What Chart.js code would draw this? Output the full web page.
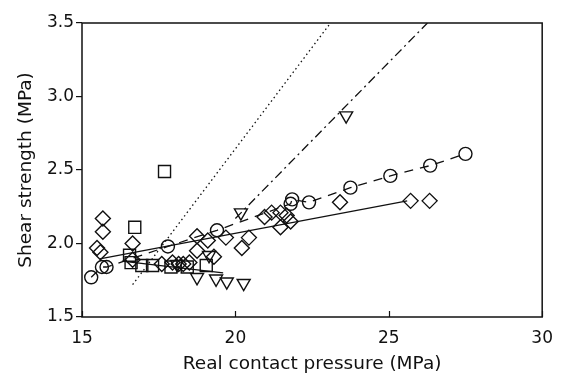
<!DOCTYPE html>
<html>
<head>
<meta charset="utf-8">
<script src="https://cdn.jsdelivr.net/npm/chart.js@4/dist/chart.umd.min.js"></script>
<style>
  html, body { margin: 0; padding: 0; background: #fff; }
  #wrap { width: 564px; height: 379px; }
</style>
</head>
<body>
<div id="wrap"><canvas id="shear"></canvas></div>
<script>
// measured points, one pair of arrays per marker type
const circleX = [15.3, 15.65, 15.8, 17.8, 19.4, 21.8, 21.85, 22.4, 23.75, 25.05, 26.35, 27.5];
const circleY = [1.77, 1.84, 1.84, 1.98, 2.09, 2.27, 2.30, 2.28, 2.38, 2.46, 2.53, 2.61];

const diamondX = [15.68, 15.68, 15.49, 15.6, 16.65, 16.65, 17.6, 17.95, 18.15, 18.3, 18.5, 18.75, 18.75,
  19.1, 19.3, 19.69, 20.21, 20.44, 20.95, 21.18, 21.47, 21.47, 21.67, 21.8, 23.41, 25.71, 26.33];
const diamondY = [2.17, 2.08, 1.97, 1.94, 2.0, 1.89, 1.86, 1.87, 1.86, 1.86, 1.87, 1.95, 2.05,
  2.02, 1.91, 2.04, 1.97, 2.04, 2.18, 2.21, 2.21, 2.11, 2.19, 2.15, 2.28, 2.29, 2.29];

const squareX = [17.69, 16.72, 16.55, 16.6, 16.95, 17.3, 17.9, 18.43, 19.05];
const squareY = [2.49, 2.11, 1.92, 1.87, 1.85, 1.85, 1.84, 1.84, 1.85];

const triangleX = [18.1, 18.75, 19.14, 19.37, 19.72, 20.27, 20.18, 23.61];
const triangleY = [1.86, 1.77, 1.92, 1.76, 1.74, 1.73, 2.21, 2.87];

// fitted lines
const dottedX = [16.65, 23.1];
const dottedY = [1.72, 3.5];
const dashDotX = [20.0, 26.26];
const dashDotY = [2.17, 3.5];
const diamondFitX = [15.58, 25.6];
const diamondFitY = [1.895, 2.29];
const squareFitX = [16.3, 19.6];
const squareFitY = [1.88, 1.80];

// axis ticks
const xTicks = [15, 20, 25, 30];
const yTicks = [1.5, 2.0, 2.5, 3.0, 3.5];

const ink = '#111';

function pts(xs, ys) {
  return xs.map((x, i) => ({ x: x, y: ys[i] }));
}

function markers(xs, ys, style, radius, extra) {
  return Object.assign({
    data: pts(xs, ys),
    pointStyle: style,
    pointRadius: radius,
    pointHoverRadius: radius,
    pointBorderColor: ink,
    pointBackgroundColor: 'rgba(0,0,0,0)',
    pointBorderWidth: 1.4,
    borderColor: ink,
    showLine: false
  }, extra || {});
}

function fitLine(xs, ys, dash, width) {
  return {
    data: pts(xs, ys),
    showLine: true,
    pointRadius: 0,
    borderColor: ink,
    borderWidth: width,
    borderDash: dash
  };
}

// box around the plot and inward ticks on the x axis
const frame = {
  id: 'frame',
  afterDraw: function (chart) {
    const ctx = chart.ctx;
    const a = chart.chartArea;
    const x = chart.scales.x;
    ctx.save();
    ctx.strokeStyle = ink;
    ctx.lineWidth = 1.5;
    ctx.strokeRect(a.left, a.top, a.right - a.left, a.bottom - a.top);
    ctx.lineWidth = 1.2;
    xTicks.forEach(function (v) {
      const px = Math.round(x.getPixelForValue(v)) + 0.5;
      ctx.beginPath();
      ctx.moveTo(px, a.bottom);
      ctx.lineTo(px, a.bottom - 6);
      ctx.stroke();
    });
    ctx.restore();
  }
};

document.addEventListener('DOMContentLoaded', function () {
  const ctx = document.getElementById('shear').getContext('2d');
  Chart.defaults.font.family = "'DejaVu Sans', sans-serif";
  Chart.defaults.color = ink;

  new Chart(ctx, {
    type: 'scatter',
    data: {
      datasets: [
        fitLine(dottedX, dottedY, [1.5, 3], 1.3),
        fitLine(dashDotX, dashDotY, [9, 4, 2, 4], 1.3),
        fitLine(diamondFitX, diamondFitY, [], 1.3),
        fitLine(squareFitX, squareFitY, [], 1.3),
        markers(circleX, circleY, 'circle', 6.5, { showLine: true, borderWidth: 1.3, borderDash: [9, 7] }),
        markers(diamondX, diamondY, 'rectRot', 7.5),
        markers(squareX, squareY, 'rect', 8.5),
        markers(triangleX, triangleY, 'triangle', 7.5, { rotation: 180 })
      ]
    },
    options: {
      responsive: true,
      maintainAspectRatio: false,
      animation: false,
      layout: { padding: { top: 23, right: 19, left: 0, bottom: 0 } },
      plugins: {
        legend: { display: false },
        tooltip: { enabled: false }
      },
      scales: {
        x: {
          type: 'linear',
          min: 15,
          max: 30,
          afterFit: function (s) { s.height = 62; },
          afterBuildTicks: function (s) { s.ticks = xTicks.map(v => ({ value: v })); },
          grid: { display: false, drawTicks: false },
          border: { display: false },
          ticks: { padding: 11, font: { size: 17 }, color: ink },
          title: {
            display: true,
            text: 'Real contact pressure (MPa)',
            font: { size: 18.5 },
            color: ink,
            padding: { top: 0, bottom: 4 }
          }
        },
        y: {
          type: 'linear',
          min: 1.5,
          max: 3.5,
          afterFit: function (s) { s.width = 82; },
          afterBuildTicks: function (s) { s.ticks = yTicks.map(v => ({ value: v })); },
          grid: { drawOnChartArea: false, tickLength: 6, color: ink, lineWidth: 1.2 },
          border: { display: false },
          ticks: {
            padding: 2,
            font: { size: 17 },
            color: ink,
            callback: function (v) { return v.toFixed(1); }
          },
          title: {
            display: true,
            text: 'Shear strength (MPa)',
            font: { size: 18.5 },
            color: ink,
            padding: { top: 15, bottom: 0 }
          }
        }
      }
    },
    plugins: [frame]
  });
});
</script>
</body>
</html>
